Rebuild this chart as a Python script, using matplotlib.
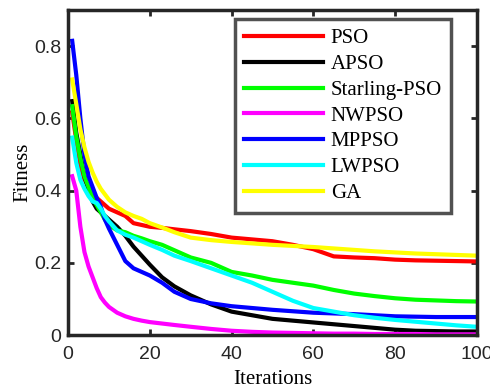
import numpy as np
import matplotlib
matplotlib.use('Agg')
import matplotlib.pyplot as plt

# iterations at which values were read
it = [1, 2, 3, 4, 5, 6, 7, 8, 9, 10, 12, 14, 16, 18, 20, 23, 26, 30, 35, 40,
      45, 50, 55, 60, 65, 70, 75, 80, 85, 90, 95, 100]

pso = [0.617, 0.54, 0.47, 0.43, 0.41, 0.39, 0.38, 0.37, 0.36, 0.35, 0.34, 0.33,
       0.31, 0.305, 0.30, 0.297, 0.293, 0.288, 0.28, 0.27, 0.265, 0.26, 0.25,
       0.238, 0.218, 0.215, 0.213, 0.209, 0.207, 0.206, 0.205, 0.204]
apso = [0.648, 0.56, 0.50, 0.44, 0.40, 0.37, 0.35, 0.34, 0.33, 0.32, 0.30, 0.275,
        0.245, 0.22, 0.195, 0.16, 0.135, 0.11, 0.085, 0.065, 0.055, 0.045, 0.04,
        0.035, 0.03, 0.025, 0.02, 0.015, 0.012, 0.011, 0.01, 0.01]
starling = [0.634, 0.55, 0.49, 0.44, 0.41, 0.38, 0.36, 0.34, 0.32, 0.305, 0.29,
            0.285, 0.275, 0.268, 0.26, 0.25, 0.235, 0.215, 0.20, 0.175, 0.165,
            0.153, 0.145, 0.137, 0.125, 0.115, 0.108, 0.102, 0.098, 0.096,
            0.094, 0.093]
nwpso = [0.44, 0.40, 0.30, 0.23, 0.19, 0.16, 0.13, 0.105, 0.09, 0.078, 0.062,
         0.052, 0.045, 0.04, 0.036, 0.032, 0.028, 0.023, 0.017, 0.012, 0.009,
         0.007, 0.006, 0.005, 0.004, 0.004, 0.003, 0.003, 0.003, 0.002, 0.002,
         0.002]
mppso = [0.815, 0.72, 0.60, 0.50, 0.44, 0.41, 0.38, 0.355, 0.32, 0.295, 0.25,
         0.205, 0.185, 0.175, 0.165, 0.145, 0.12, 0.10, 0.088, 0.08, 0.075,
         0.07, 0.066, 0.062, 0.06, 0.058, 0.055, 0.052, 0.051, 0.05, 0.05, 0.05]
lwpso = [0.547, 0.477, 0.43, 0.405, 0.385, 0.37, 0.366, 0.35, 0.33, 0.315, 0.29,
         0.278, 0.27, 0.26, 0.25, 0.236, 0.22, 0.205, 0.185, 0.165, 0.145, 0.12,
         0.095, 0.075, 0.065, 0.055, 0.048, 0.042, 0.037, 0.032, 0.027, 0.023]
ga = [0.708, 0.64, 0.57, 0.52, 0.48, 0.45, 0.425, 0.405, 0.39, 0.375, 0.355,
      0.34, 0.33, 0.322, 0.31, 0.298, 0.285, 0.27, 0.263, 0.258, 0.254, 0.25,
      0.247, 0.244, 0.24, 0.236, 0.232, 0.229, 0.226, 0.224, 0.222, 0.22]

names = ['PSO', 'APSO', 'Starling-PSO', 'NWPSO', 'MPPSO', 'LWPSO', 'GA']
series = [pso, apso, starling, nwpso, mppso, lwpso, ga]
colors = ['#ff0000', '#000000', '#00ff00', '#ff00ff', '#0000ff', '#00ffff', '#ffff00']

fig = plt.figure(figsize=(4.9, 3.91), dpi=100)
ax = fig.add_axes([0.139, 0.143, 0.834, 0.831])

for name, s, c in zip(names, series, colors):
    ax.plot(it, s, color=c, lw=3, label=name)

ax.set_xlim(0, 100)
ax.set_ylim(0, 0.9)
ax.set_xticks([0, 20, 40, 60, 80, 100])
ax.set_yticks([0, 0.2, 0.4, 0.6, 0.8])
ax.set_yticklabels(['0', '0.2', '0.4', '0.6', '0.8'])
ax.tick_params(direction='in', top=True, right=True, length=4, width=2,
               color='#262626', labelsize=14, labelcolor='#262626')
ax.tick_params(axis='x', pad=8)
ax.tick_params(axis='y', pad=5)
for lab in ax.get_xticklabels() + ax.get_yticklabels():
    lab.set_family('Liberation Sans')
for sp in ax.spines.values():
    sp.set_linewidth(2.5)
    sp.set_color('#262626')

ax.set_xlabel('Iterations', family='Liberation Serif', fontsize=15, labelpad=5)
ax.set_ylabel('Fitness', family='Liberation Serif', fontsize=15, labelpad=1)

leg = ax.legend(loc='upper right', bbox_to_anchor=(0.948, 0.985),
                prop={'family': 'Liberation Serif', 'size': 15},
                frameon=True, fancybox=False, handlelength=3.8,
                handletextpad=0.35, labelspacing=0.3, borderpad=0.45,
                borderaxespad=0.2)
leg.get_frame().set_edgecolor('#262626')
leg.get_frame().set_linewidth(2.5)
for l in leg.get_lines():
    l.set_linewidth(3)

fig.savefig('out.png', dpi=100)
